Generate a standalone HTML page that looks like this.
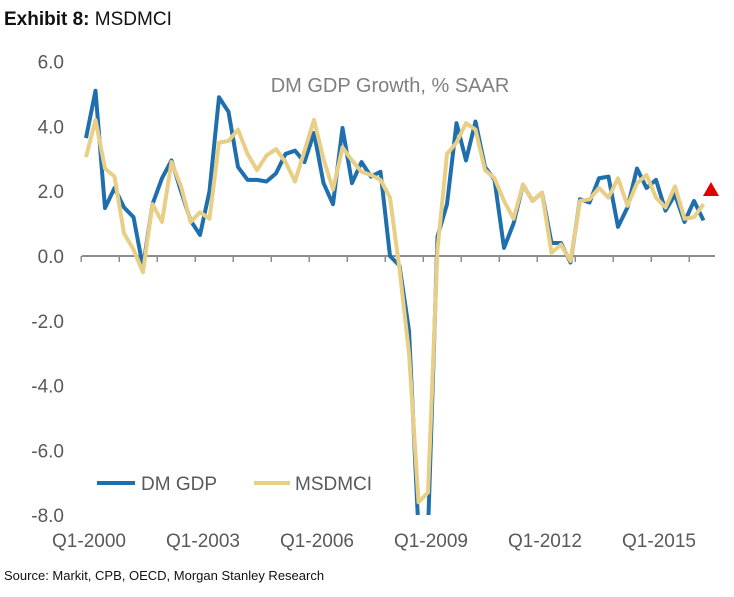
<!DOCTYPE html>
<html><head><meta charset="utf-8">
<style>
body{margin:0;background:#fff;width:734px;height:592px;overflow:hidden;font-family:"Liberation Sans",Arial,sans-serif;}
svg text{font-family:"Liberation Sans",Arial,sans-serif;}
</style></head>
<body>
<svg id="chart" width="734" height="592" viewBox="0 0 734 592" xmlns="http://www.w3.org/2000/svg">
<defs><clipPath id="plotclip"><rect x="60" y="55" width="670" height="460"/></clipPath></defs>
<text x="4" y="25" font-size="19" font-weight="bold" fill="#111">Exhibit 8:  <tspan font-weight="normal">MSDMCI</tspan></text>
<text x="390" y="92" font-size="20" fill="#7f7f7f" text-anchor="middle">DM GDP Growth, % SAAR</text>
<g id="yaxis"></g>
<g id="xaxis"></g>
<g id="series" clip-path="url(#plotclip)"></g>
<polygon points="711,182 703,196 719,196" fill="#e00000"/>
<g>
<line x1="97" y1="483" x2="135" y2="483" stroke="#1f6fae" stroke-width="4"/>
<text x="141" y="490" font-size="19" fill="#595959">DM GDP</text>
<line x1="254" y1="483" x2="290" y2="483" stroke="#e8cf85" stroke-width="4"/>
<text x="295" y="490" font-size="19" fill="#595959">MSDMCI</text>
</g>
<text x="4" y="580" font-size="13" fill="#111">Source: Markit, CPB, OECD, Morgan Stanley Research</text>
</svg>
<script>
const dmGdp=[3.64,5.1,1.48,2.1,1.5,1.2,-0.35,1.6,2.4,2.95,2.0,1.1,0.65,2.0,4.9,4.45,2.75,2.35,2.35,2.3,2.55,3.15,3.25,2.9,3.8,2.25,1.6,3.95,2.25,2.9,2.45,2.6,0.0,-0.3,-2.3,-8.5,-8.5,0.6,1.6,4.1,2.95,4.15,2.75,2.35,0.25,1.0,2.2,1.7,1.95,0.4,0.4,-0.2,1.75,1.65,2.4,2.45,0.9,1.5,2.7,2.1,2.35,1.4,1.9,1.05,1.7,1.1];
const msdmci=[3.05,4.2,2.7,2.45,0.7,0.2,-0.5,1.6,1.05,2.9,2.15,1.05,1.35,1.15,3.5,3.55,3.9,3.15,2.65,3.1,3.3,2.9,2.3,3.25,4.2,3.0,2.05,3.35,2.95,2.6,2.5,2.35,1.8,-0.4,-3.0,-7.6,-7.3,0.2,3.15,3.5,4.1,3.9,2.65,2.4,1.7,1.15,2.2,1.7,1.95,0.1,0.35,-0.15,1.7,1.75,2.1,1.8,2.4,1.55,2.25,2.5,1.8,1.5,2.15,1.15,1.2,1.6];
const yTicks=[6,4,2,0,-2,-4,-6,-8];
const yTickLabels=["6.0","4.0","2.0","0.0","-2.0","-4.0","-6.0","-8.0"];
const xLabels=["Q1-2000","Q1-2003","Q1-2006","Q1-2009","Q1-2012","Q1-2015"];
const xLabelQuarter=[0,12,24,36,48,60];
const startYear=2000, nYears=17;

const NS="http://www.w3.org/2000/svg";
const y=v=>256-v*32.4;
const x=i=>86+i*9.5;
function mk(tag,attrs,parent){const e=document.createElementNS(NS,tag);for(const k in attrs)e.setAttribute(k,attrs[k]);parent.appendChild(e);return e;}
const ya=document.getElementById('yaxis'),xa=document.getElementById('xaxis'),sg=document.getElementById('series');
yTicks.forEach((v,k)=>{const t=mk('text',{x:64,y:y(v)+7,'font-size':19,fill:'#595959','text-anchor':'end'},ya);t.textContent=yTickLabels[k];

});
const ax=mk('line',{x1:82,y1:y(0),x2:715,y2:y(0),stroke:'#8c8c8c','stroke-width':2},xa);


for(let k=0;k<nYears;k++){const tx=x(k*4)-4.75;const tk=mk('line',{x1:tx,y1:y(0),x2:tx,y2:y(0)+6,stroke:'#8c8c8c','stroke-width':1.5},xa);

}
xLabels.forEach((l,k)=>{const t=mk('text',{x:x(xLabelQuarter[k])+3,y:547,'font-size':19,fill:'#595959','text-anchor':'middle'},xa);t.textContent=l;

});
function line(data,color,name){const p=mk('polyline',{points:data.map((v,i)=>x(i)+','+y(v)).join(' '),fill:'none',stroke:color,'stroke-width':4,'stroke-linejoin':'round'},sg);

}
line(dmGdp,'#1f6fae','dm-gdp-line');
line(msdmci,'#e8cf85','msdmci-line');
</script>
</body></html>
